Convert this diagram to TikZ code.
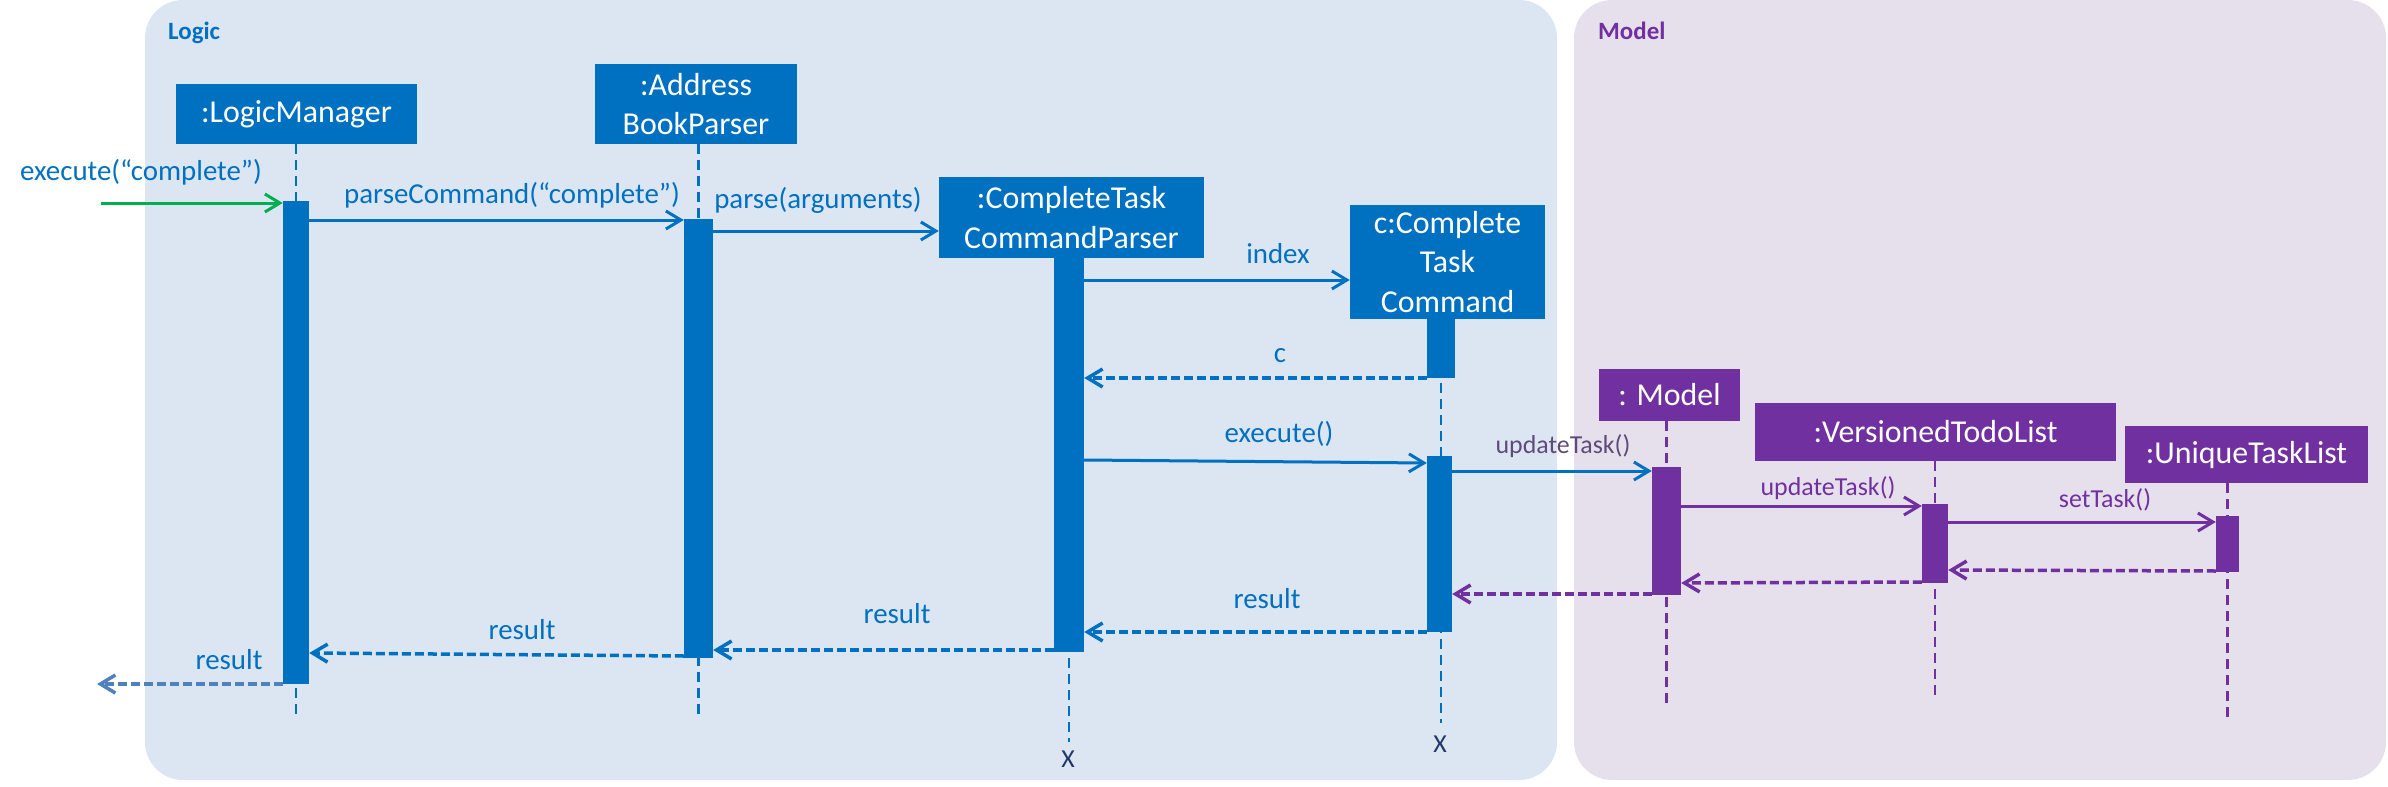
\documentclass[tikz,border=0pt]{standalone}
\usepackage{fontspec}
\setmainfont{Carlito}
\usetikzlibrary{arrows.meta}
\pgfdeclarelayer{bg}
\pgfdeclarelayer{life}
\pgfsetlayers{bg,life,main}
\definecolor{cblue}{HTML}{0070C0}
\definecolor{cpurple}{HTML}{7030A0}
\definecolor{cgreen}{HTML}{00B050}
\definecolor{logicbg}{HTML}{DCE6F2}
\definecolor{modelbg}{HTML}{E6E0EC}
\definecolor{cgreyblue}{HTML}{4F81BD}
\definecolor{cmuted}{HTML}{604A7B}
\definecolor{cnavy}{HTML}{1F3864}
\newcommand\BoxFont{\fontsize{32}{40}\selectfont}
\newcommand\LblFont{\fontsize{29}{34}\selectfont}
\newcommand\SmLblFont{\fontsize{26}{31}\selectfont}
\newcommand\PanelFont{\fontsize{25}{30}\selectfont\bfseries}
\begin{document}
\begin{tikzpicture}[x=1bp,y=-1bp,
  box/.style={fill=#1, text=white, inner sep=0pt, align=center, font=\BoxFont},
  bar/.style={fill=#1, inner sep=0pt},
  life/.style={draw=#1, line width=2.5bp, dash pattern=on 10bp off 6bp},
  msg/.style={draw=#1, line width=3bp, -{Straight Barb[length=15bp,width=18bp]}},
  ret/.style={draw=#1, line width=3.5bp, dash pattern=on 9bp off 4bp, -{Straight Barb[length=15bp,width=18bp]}},
  lbl/.style={text=#1, inner sep=0pt, anchor=base, font=\LblFont},
  smlbl/.style={text=#1, inner sep=0pt, anchor=base, font=\SmLblFont},
  panellbl/.style={text=#1, inner sep=0pt, anchor=base west, font=\PanelFont},
  xmark/.style={text=cnavy, inner sep=0pt, anchor=base, font=\SmLblFont}]
\useasboundingbox (0,0) rectangle (2388,787);

% panels
\begin{pgfonlayer}{bg}
\fill[logicbg, rounded corners=38bp] (145,0) rectangle (1557,780);
\fill[modelbg, rounded corners=38bp] (1574,0) rectangle (2386,780);
\end{pgfonlayer}
\node[panellbl=cblue] (logiclbl) at (168,40) {Logic};
\node[panellbl=cpurple] (modellbl) at (1598,40) {Model};

% object boxes
\node[box=cblue, minimum width=241bp, minimum height=60bp] (lm) at (296.5,114) {:LogicManager};
\node[box=cblue, minimum width=202bp, minimum height=80bp] (abp) at (696,104) {:Address\\BookParser};
\node[box=cblue, minimum width=265bp, minimum height=81bp] (ctcp) at (1071.5,217.5) {:CompleteTask\\CommandParser};
\node[box=cblue, minimum width=195bp, minimum height=114bp] (ctc) at (1447.5,262) {c:Complete\\Task\\Command};
\node[box=cpurple, minimum width=141bp, minimum height=52bp] (model) at (1669.5,395) {: Model};
\node[box=cpurple, minimum width=361bp, minimum height=58bp] (vtl) at (1935.5,432) {:VersionedTodoList};
\node[box=cpurple, minimum width=243bp, minimum height=57bp] (utl) at (2246.5,454.5) {:UniqueTaskList};

% activation bars
\node[bar=cblue, minimum width=26bp, minimum height=483bp] (lmbar) at (296,442.5) {};
\node[bar=cblue, minimum width=29bp, minimum height=439bp] (abpbar) at (698.5,438.5) {};
\node[bar=cblue, minimum width=30bp, minimum height=394bp] (ctcpbar) at (1069,455) {};
\node[bar=cblue, minimum width=28bp, minimum height=59bp] (ctcbar1) at (1441,348.5) {};
\node[bar=cblue, minimum width=25bp, minimum height=176bp] (ctcbar2) at (1439.5,544) {};
\node[bar=cpurple, minimum width=29bp, minimum height=128bp] (modelbar) at (1666.5,531) {};
\node[bar=cpurple, minimum width=26bp, minimum height=79bp] (vtlbar) at (1935,543.5) {};
\node[bar=cpurple, minimum width=23bp, minimum height=56bp] (utlbar) at (2227.5,544) {};

% lifeline ends
\coordinate (lmEnd) at (296,717);
\coordinate (abpEnd) at (698,717);
\coordinate (ctcpEnd) at (1068,742);
\coordinate (ctcEnd) at (1440,723);
\coordinate (modelEnd) at (1667,703);
\coordinate (vtlEnd) at (1936,695);
\coordinate (utlEnd) at (2227,717);

\begin{pgfonlayer}{life}
\draw[life=cblue] (lm.south -| lmbar.center) -- (lmbar.center |- lmEnd);
\draw[life=cblue] (abp.south -| abpbar.center) -- (abpbar.center |- abpEnd);
\draw[life=cblue] (ctcp.south -| ctcpbar.center) -- (ctcpbar.center |- ctcpEnd);
\draw[life=cblue] (ctc.south -| ctcbar1.center) -- (ctcbar1.center |- ctcEnd);
\draw[life=cpurple] (model.south -| modelbar.center) -- (modelbar.center |- modelEnd);
\draw[life=cpurple] (vtl.south -| vtlbar.center) -- (vtlbar.center |- vtlEnd);
\draw[life=cpurple] (utl.south -| utlbar.center) -- (utlbar.center |- utlEnd);
\end{pgfonlayer}

% destruction marks
\node[xmark] (ctcpx) at (1068,767) {X};
\node[xmark] (ctcx) at (1440,752) {X};

% messages
\coordinate (found) at (101,203);
\coordinate (out) at (97,684);
\draw[msg=cgreen] (found) -- (lmbar.west |- found);
\draw[msg=cblue] (lmbar.east |- 0,220) -- (abpbar.west |- 0,220);
\draw[msg=cblue] (abpbar.east |- 0,231) -- (ctcp.west |- 0,231);
\draw[msg=cblue] (ctcpbar.east |- 0,280) -- (ctc.west |- 0,280);
\draw[ret=cblue] (ctcbar1.west |- 0,378) -- (ctcpbar.east |- 0,378);
\draw[msg=cblue] (ctcpbar.east |- 0,460) -- (ctcbar2.west |- 0,463);
\draw[msg=cblue] (ctcbar2.east |- 0,471) -- (modelbar.west |- 0,471);
\draw[msg=cpurple] (modelbar.east |- 0,506) -- (vtlbar.west |- 0,506);
\draw[msg=cpurple] (vtlbar.east |- 0,522) -- (utlbar.west |- 0,522);
\draw[ret=cpurple] (utlbar.west |- 0,571) -- (vtlbar.east |- 0,570);
\draw[ret=cpurple] (vtlbar.west |- 0,582) -- (modelbar.east |- 0,583);
\draw[ret=cpurple] (modelbar.west |- 0,594) -- (ctcbar2.east |- 0,594);
\draw[ret=cblue] (ctcbar2.west |- 0,632) -- (ctcpbar.east |- 0,632);
\draw[ret=cblue] (ctcpbar.west |- 0,650) -- (abpbar.east |- 0,650);
\draw[ret=cblue] (abpbar.west |- 0,656) -- (lmbar.east |- 0,653);
\draw[ret=cgreyblue] (lmbar.west |- out) -- (out);

% message labels
\node[lbl=cblue] (l1) at (141,180) {execute(“complete”)};
\node[lbl=cblue] (l2) at (512,203) {parseCommand(“complete”)};
\node[lbl=cblue] (l3) at (818,208) {parse(arguments)};
\node[lbl=cblue] (l4) at (1278,263) {index};
\node[lbl=cblue] (l5) at (1280,362) {c};
\node[lbl=cblue] (l6) at (1279,442) {execute()};
\node[smlbl=cmuted] (l7) at (1563,453) {updateTask()};
\node[smlbl=cpurple] (l8) at (1828,495) {updateTask()};
\node[smlbl=cpurple] (l9) at (2105,507) {setTask()};
\node[lbl=cblue] (l10) at (1267,608) {result};
\node[lbl=cblue] (l11) at (897,623) {result};
\node[lbl=cblue] (l12) at (522,639) {result};
\node[lbl=cblue] (l13) at (229,669) {result};
\end{tikzpicture}
\end{document}
